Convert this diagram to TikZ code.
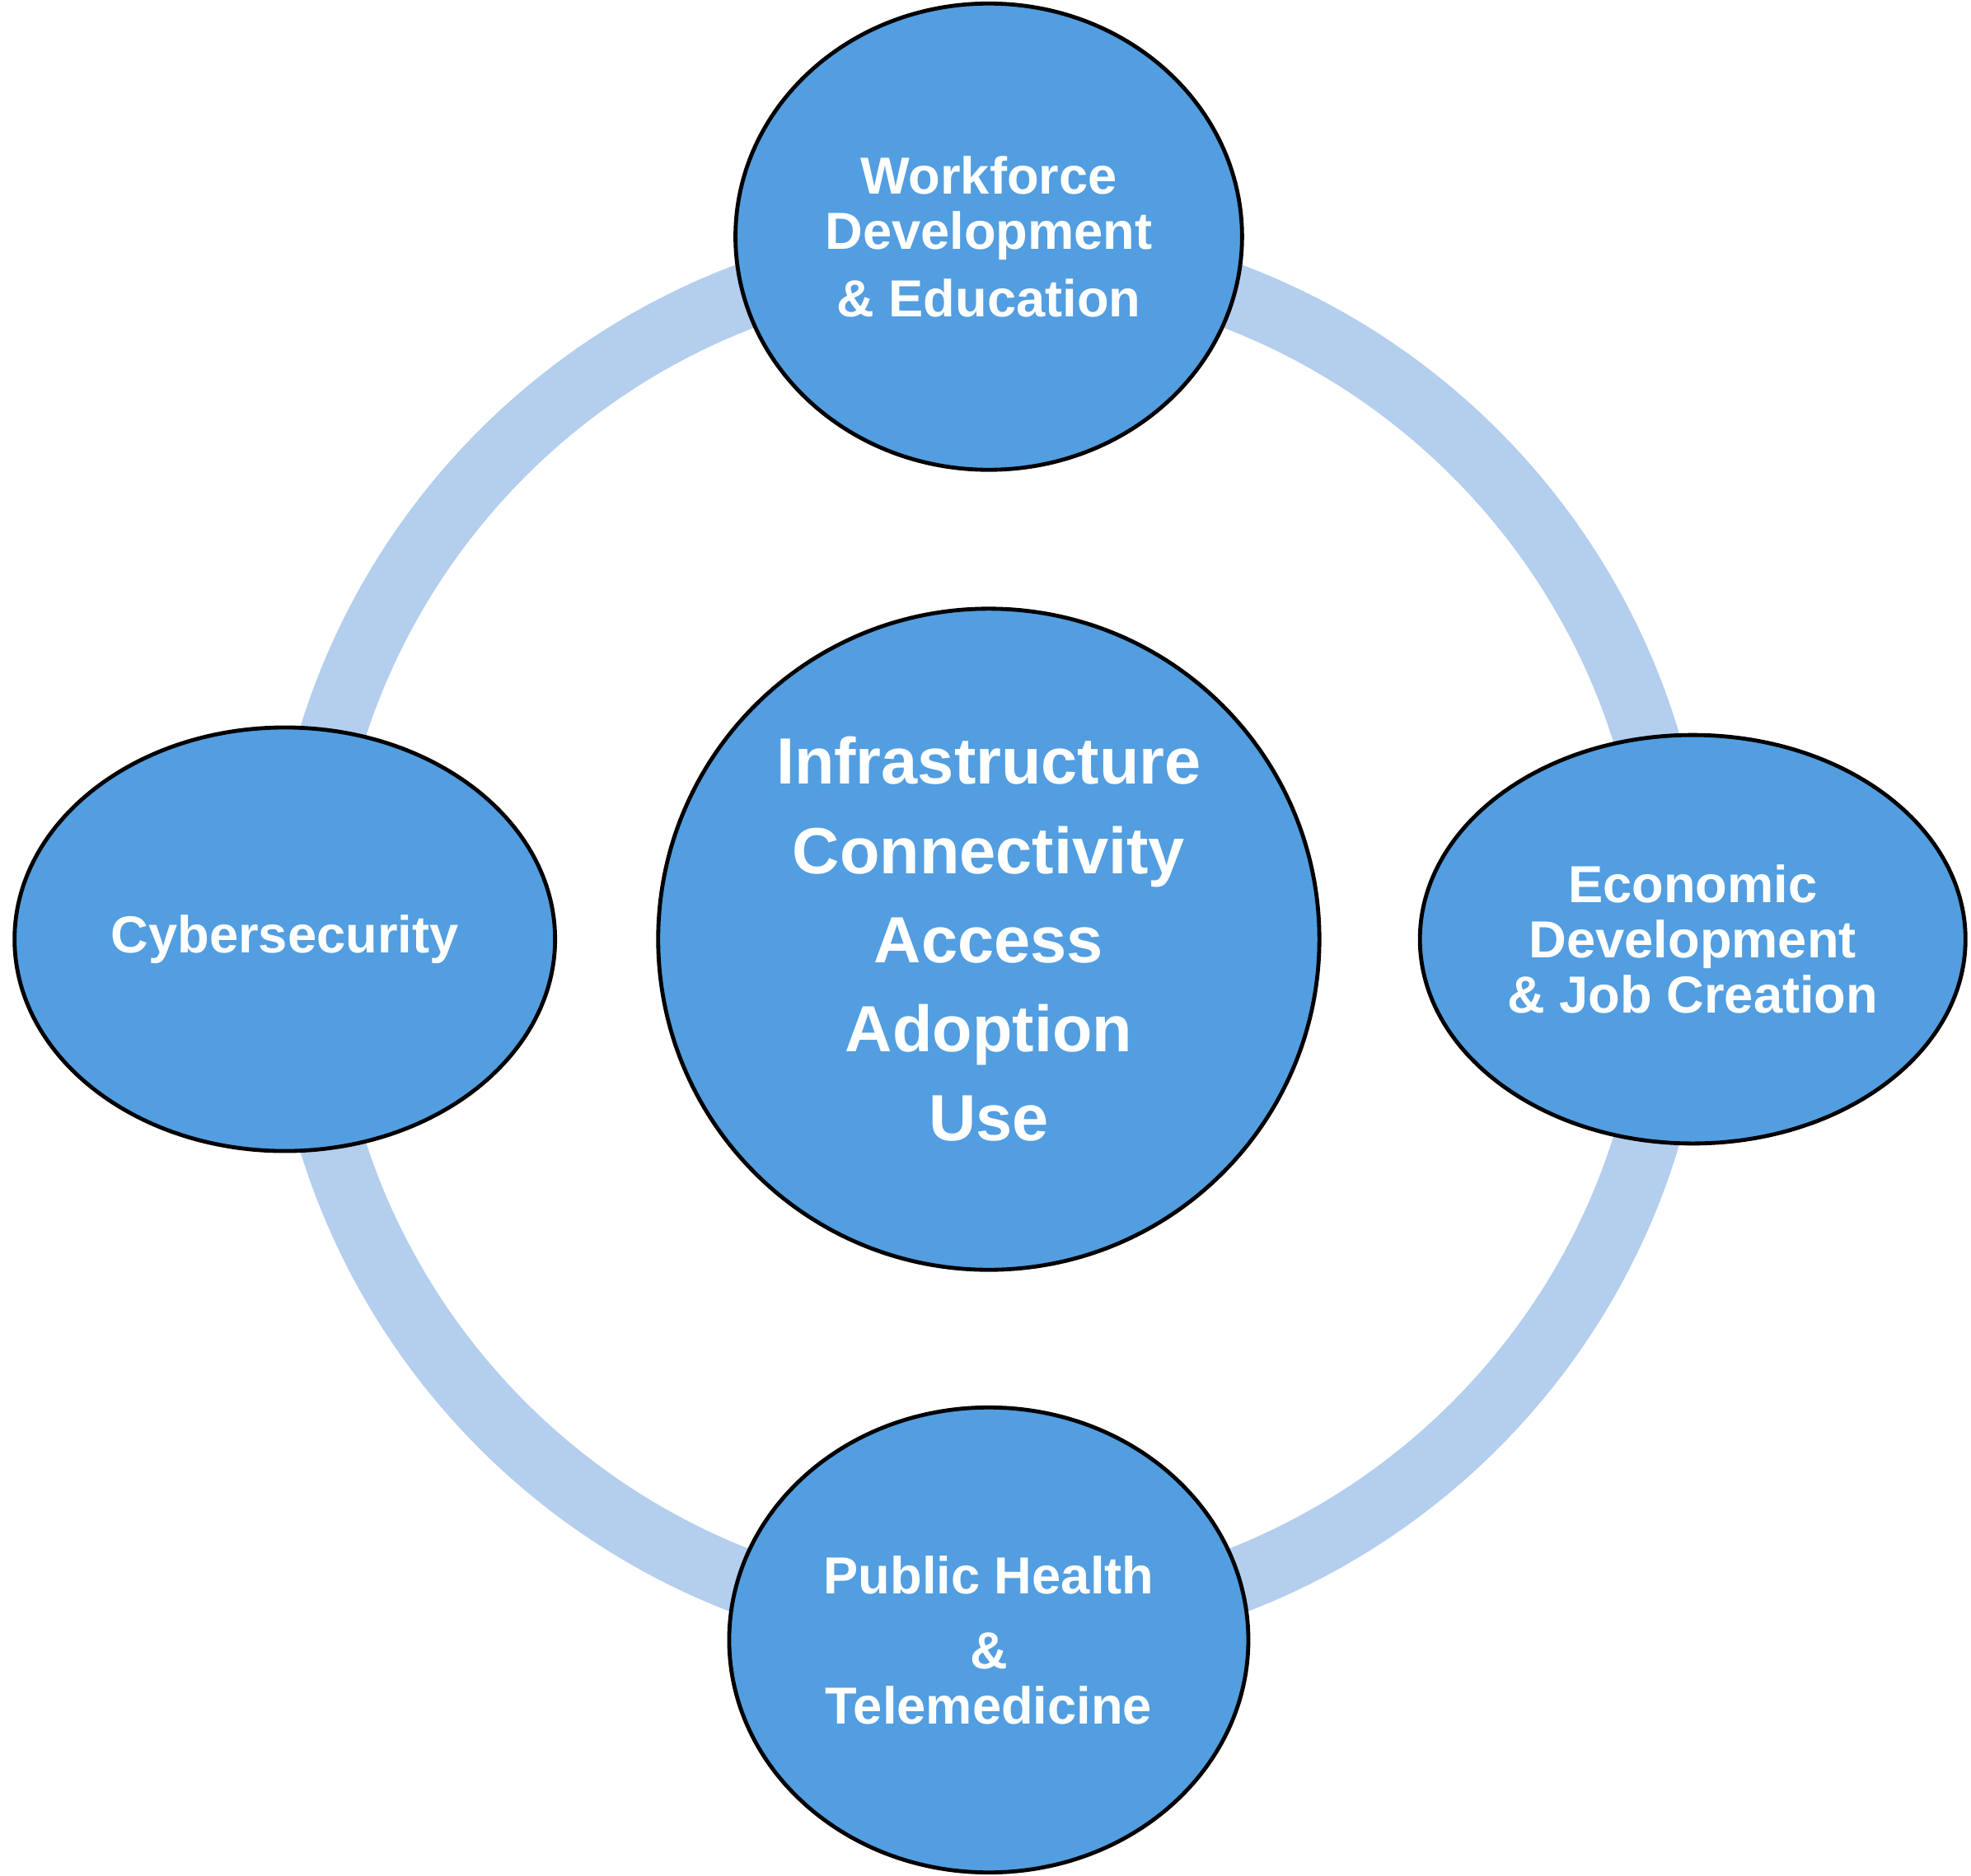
\documentclass[tikz,border=0pt]{standalone}
\usepackage{fontspec}
\setmainfont{Liberation Sans}
\usetikzlibrary{shapes.geometric}
\definecolor{hubblue}{RGB}{82,158,224}
\definecolor{ringblue}{RGB}{180,206,238}

\begin{document}
\begin{tikzpicture}[
	topic/.style={ellipse, draw, line width=0.9pt, fill=hubblue, text=white, inner sep=0pt, align=center, font=\bfseries\fontsize{11.8}{12.5}\selectfont},
	hub/.style={topic, circle, minimum size=5.26cm, font=\bfseries\fontsize{14.8}{20.2}\selectfont}]
	\path [use as bounding box] (-7.866,-7.447) rectangle (7.814,7.473);
	\coordinate (O) at (0,0);
	\draw[ringblue, line width=0.52cm] (O) circle (5.47);
	\node[hub] (hub) at (O) {Infrastructure\\Connectivity\\Access\\Adoption\\Use};
	\node[topic, minimum width=4.03cm, minimum height=3.71cm] (workforce) at (0,5.59) {Workforce\\Development\\[2.7pt]\& Education};
	\node[topic, minimum width=4.34cm, minimum height=3.25cm] (economic) at (5.60,0) {Economic\\Development\\\& Job Creation};
	\node[topic, minimum width=4.13cm, minimum height=3.70cm] (health) at (0,-5.575) {Public Health\\[4.5pt]\&\\Telemedicine};
	\node[topic, minimum width=4.30cm, minimum height=3.37cm] (cyber) at (-5.60,0) {Cybersecurity};
\end{tikzpicture}
\end{document}
